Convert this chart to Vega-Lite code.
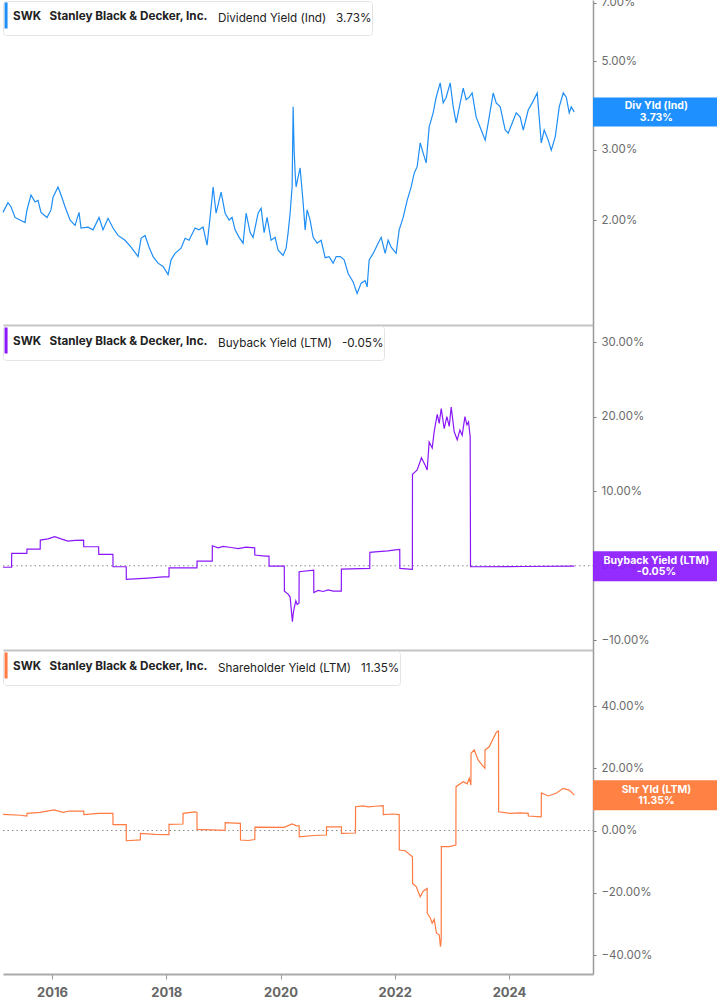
{
  "$schema": "https://vega.github.io/schema/vega-lite/v6.json",
  "padding": {"top": -4, "left": 0, "right": 0, "bottom": 0},
  "background": "white",
  "spacing": 0,
  "config": {
    "font": "Inter",
    "view": {"stroke": null},
    "axisY": {"grid": false, "title": null, "domainColor": "#9a9a9a", "domainWidth": 1.5, "tickColor": "#777777", "tickSize": 3, "tickWidth": 1, "labelColor": "#6b6b6b", "labelFontSize": 11.5, "labelFont": "Inter", "labelPadding": 5},
    "axisX": {"grid": false, "title": null, "domainColor": "#c4c4c4", "domainWidth": 2},
    "legend": {"orient": "none", "legendX": 0, "legendY": 1, "padding": 0, "strokeColor": "#e4e4e4", "fillColor": "white", "cornerRadius": 3, "titleOrient": "right", "titleAnchor": "middle", "titleBaseline": "middle", "titleFontWeight": "normal", "titleFont": "Inter", "titleFontSize": 11.7, "titleColor": "#222222", "titlePadding": 10, "titleLimit": 500, "labelFont": "Inter", "labelFontWeight": "bold", "labelFontSize": 11.7, "labelColor": "#222222", "labelOffset": -19, "labelLimit": 500, "symbolType": "M-0.88,-1L-0.88,1", "symbolSize": 676, "symbolStrokeWidth": 3, "symbolOpacity": 1}
  },
  "datasets": {
    "div": [{"t":2015.142,"v":2.09},{"t":2015.229,"v":2.21},{"t":2015.282,"v":2.16},{"t":2015.352,"v":2.03},{"t":2015.44,"v":2.0},{"t":2015.527,"v":1.97},{"t":2015.562,"v":2.12},{"t":2015.632,"v":2.31},{"t":2015.702,"v":2.22},{"t":2015.755,"v":2.24},{"t":2015.807,"v":2.09},{"t":2015.912,"v":2.03},{"t":2015.982,"v":2.12},{"t":2016.018,"v":2.28},{"t":2016.105,"v":2.42},{"t":2016.158,"v":2.31},{"t":2016.228,"v":2.16},{"t":2016.315,"v":2.0},{"t":2016.403,"v":1.94},{"t":2016.473,"v":2.09},{"t":2016.508,"v":1.91},{"t":2016.63,"v":1.92},{"t":2016.718,"v":1.89},{"t":2016.823,"v":2.03},{"t":2016.893,"v":1.89},{"t":2016.981,"v":2.02},{"t":2017.068,"v":1.91},{"t":2017.156,"v":1.83},{"t":2017.278,"v":1.78},{"t":2017.384,"v":1.71},{"t":2017.506,"v":1.62},{"t":2017.559,"v":1.8},{"t":2017.629,"v":1.83},{"t":2017.699,"v":1.71},{"t":2017.769,"v":1.62},{"t":2017.856,"v":1.56},{"t":2017.944,"v":1.53},{"t":2018.032,"v":1.46},{"t":2018.084,"v":1.59},{"t":2018.154,"v":1.65},{"t":2018.259,"v":1.7},{"t":2018.329,"v":1.8},{"t":2018.399,"v":1.78},{"t":2018.504,"v":1.91},{"t":2018.574,"v":1.89},{"t":2018.644,"v":1.92},{"t":2018.714,"v":1.73},{"t":2018.767,"v":2.03},{"t":2018.82,"v":2.42},{"t":2018.872,"v":2.08},{"t":2018.96,"v":2.35},{"t":2019.03,"v":2.08},{"t":2019.1,"v":2.0},{"t":2019.152,"v":2.03},{"t":2019.205,"v":1.89},{"t":2019.275,"v":1.81},{"t":2019.345,"v":1.75},{"t":2019.398,"v":2.08},{"t":2019.468,"v":1.86},{"t":2019.52,"v":1.81},{"t":2019.608,"v":2.08},{"t":2019.66,"v":2.14},{"t":2019.713,"v":1.86},{"t":2019.765,"v":2.03},{"t":2019.835,"v":1.78},{"t":2019.905,"v":1.81},{"t":2019.958,"v":1.68},{"t":2020.046,"v":1.63},{"t":2020.098,"v":1.7},{"t":2020.133,"v":1.86},{"t":2020.168,"v":2.08},{"t":2020.203,"v":2.42},{"t":2020.221,"v":3.84},{"t":2020.238,"v":2.99},{"t":2020.256,"v":2.62},{"t":2020.273,"v":2.42},{"t":2020.308,"v":2.56},{"t":2020.343,"v":2.7},{"t":2020.396,"v":2.21},{"t":2020.431,"v":1.89},{"t":2020.466,"v":2.12},{"t":2020.518,"v":2.0},{"t":2020.571,"v":1.81},{"t":2020.641,"v":1.75},{"t":2020.711,"v":1.78},{"t":2020.781,"v":1.61},{"t":2020.851,"v":1.62},{"t":2020.921,"v":1.56},{"t":2020.974,"v":1.62},{"t":2021.044,"v":1.62},{"t":2021.114,"v":1.59},{"t":2021.184,"v":1.47},{"t":2021.271,"v":1.4},{"t":2021.341,"v":1.31},{"t":2021.411,"v":1.39},{"t":2021.481,"v":1.41},{"t":2021.516,"v":1.36},{"t":2021.552,"v":1.59},{"t":2021.622,"v":1.65},{"t":2021.709,"v":1.75},{"t":2021.762,"v":1.81},{"t":2021.832,"v":1.65},{"t":2021.884,"v":1.78},{"t":2021.937,"v":1.71},{"t":2022.024,"v":1.65},{"t":2022.077,"v":1.89},{"t":2022.147,"v":2.03},{"t":2022.217,"v":2.24},{"t":2022.287,"v":2.42},{"t":2022.34,"v":2.62},{"t":2022.392,"v":2.72},{"t":2022.445,"v":3.12},{"t":2022.497,"v":2.94},{"t":2022.55,"v":2.78},{"t":2022.602,"v":3.42},{"t":2022.672,"v":3.71},{"t":2022.725,"v":4.06},{"t":2022.795,"v":4.41},{"t":2022.848,"v":3.93},{"t":2022.9,"v":4.06},{"t":2022.97,"v":4.41},{"t":2023.023,"v":3.84},{"t":2023.075,"v":3.5},{"t":2023.145,"v":3.93},{"t":2023.198,"v":4.28},{"t":2023.25,"v":4.0},{"t":2023.303,"v":4.06},{"t":2023.355,"v":4.16},{"t":2023.425,"v":3.62},{"t":2023.513,"v":3.36},{"t":2023.583,"v":3.17},{"t":2023.636,"v":3.5},{"t":2023.723,"v":4.16},{"t":2023.776,"v":3.93},{"t":2023.846,"v":3.84},{"t":2023.933,"v":3.36},{"t":2023.986,"v":3.3},{"t":2024.056,"v":3.5},{"t":2024.126,"v":3.71},{"t":2024.196,"v":3.62},{"t":2024.249,"v":3.36},{"t":2024.336,"v":3.77},{"t":2024.406,"v":3.93},{"t":2024.494,"v":4.16},{"t":2024.564,"v":3.12},{"t":2024.616,"v":3.36},{"t":2024.686,"v":3.17},{"t":2024.739,"v":2.99},{"t":2024.809,"v":3.23},{"t":2024.879,"v":3.84},{"t":2024.949,"v":4.16},{"t":2025.002,"v":4.06},{"t":2025.054,"v":3.71},{"t":2025.089,"v":3.84},{"t":2025.142,"v":3.73}],
    "buyback": [{"t":2015.142,"v":-0.2},{"t":2015.292,"v":-0.2},{"t":2015.294,"v":1.66},{"t":2015.56,"v":1.66},{"t":2015.562,"v":2.24},{"t":2015.793,"v":2.24},{"t":2015.795,"v":3.45},{"t":2015.93,"v":3.6},{"t":2016.047,"v":3.9},{"t":2016.158,"v":3.6},{"t":2016.28,"v":3.3},{"t":2016.403,"v":3.4},{"t":2016.553,"v":3.45},{"t":2016.555,"v":2.55},{"t":2016.816,"v":2.55},{"t":2016.818,"v":1.53},{"t":2017.066,"v":1.53},{"t":2017.068,"v":-0.13},{"t":2017.299,"v":-0.13},{"t":2017.301,"v":-1.83},{"t":2017.681,"v":-1.65},{"t":2017.944,"v":-1.5},{"t":2018.047,"v":-1.48},{"t":2018.049,"v":-0.27},{"t":2018.537,"v":-0.27},{"t":2018.539,"v":0.63},{"t":2018.805,"v":0.63},{"t":2018.807,"v":2.68},{"t":2018.907,"v":2.4},{"t":2018.995,"v":2.6},{"t":2019.135,"v":2.45},{"t":2019.257,"v":2.3},{"t":2019.398,"v":2.5},{"t":2019.548,"v":2.4},{"t":2019.55,"v":1.44},{"t":2019.73,"v":1.3},{"t":2019.798,"v":1.3},{"t":2019.8,"v":-0.04},{"t":2020.066,"v":-0.04},{"t":2020.068,"v":-3.4},{"t":2020.133,"v":-3.8},{"t":2020.168,"v":-4.2},{"t":2020.208,"v":-7.5},{"t":2020.221,"v":-6.5},{"t":2020.238,"v":-5.7},{"t":2020.268,"v":-4.7},{"t":2020.291,"v":-5.2},{"t":2020.324,"v":-5.0},{"t":2020.326,"v":-0.8},{"t":2020.581,"v":-0.6},{"t":2020.583,"v":-3.6},{"t":2020.659,"v":-3.3},{"t":2020.746,"v":-3.45},{"t":2020.834,"v":-3.25},{"t":2020.921,"v":-3.4},{"t":2021.064,"v":-3.4},{"t":2021.066,"v":-0.44},{"t":2021.562,"v":-0.35},{"t":2021.564,"v":1.8},{"t":2021.709,"v":1.9},{"t":2021.884,"v":2.0},{"t":2021.972,"v":2.1},{"t":2022.087,"v":2.2},{"t":2022.089,"v":-0.35},{"t":2022.308,"v":-0.48},{"t":2022.31,"v":12.27},{"t":2022.357,"v":12.6},{"t":2022.392,"v":12.85},{"t":2022.467,"v":14.5},{"t":2022.532,"v":13.5},{"t":2022.567,"v":12.85},{"t":2022.602,"v":16.6},{"t":2022.655,"v":15.8},{"t":2022.69,"v":18.0},{"t":2022.743,"v":20.3},{"t":2022.778,"v":19.1},{"t":2022.813,"v":21.1},{"t":2022.865,"v":18.4},{"t":2022.912,"v":20.0},{"t":2022.953,"v":18.7},{"t":2022.988,"v":21.3},{"t":2023.04,"v":18.0},{"t":2023.093,"v":16.9},{"t":2023.14,"v":18.2},{"t":2023.18,"v":17.5},{"t":2023.228,"v":20.0},{"t":2023.263,"v":18.9},{"t":2023.291,"v":19.3},{"t":2023.32,"v":17.3},{"t":2023.326,"v":-0.13},{"t":2024.249,"v":-0.1},{"t":2025.142,"v":-0.05}],
    "shy": [{"t":2015.142,"v":5.2},{"t":2015.45,"v":4.9},{"t":2015.56,"v":4.66},{"t":2015.564,"v":5.5},{"t":2015.79,"v":5.85},{"t":2016.035,"v":6.6},{"t":2016.193,"v":5.85},{"t":2016.298,"v":6.26},{"t":2016.555,"v":6.26},{"t":2016.557,"v":5.08},{"t":2016.818,"v":5.5},{"t":2017.066,"v":5.5},{"t":2017.068,"v":1.87},{"t":2017.299,"v":1.87},{"t":2017.301,"v":-3.28},{"t":2017.546,"v":-3.0},{"t":2017.548,"v":-0.9},{"t":2017.804,"v":-1.22},{"t":2018.047,"v":-1.3},{"t":2018.049,"v":2.0},{"t":2018.292,"v":2.1},{"t":2018.294,"v":5.5},{"t":2018.504,"v":6.0},{"t":2018.537,"v":5.8},{"t":2018.539,"v":0.38},{"t":2019.03,"v":0.06},{"t":2019.032,"v":2.5},{"t":2019.298,"v":2.3},{"t":2019.3,"v":-3.05},{"t":2019.433,"v":-3.2},{"t":2019.55,"v":-2.9},{"t":2019.552,"v":1.1},{"t":2020.063,"v":1.0},{"t":2020.203,"v":2.1},{"t":2020.273,"v":1.6},{"t":2020.326,"v":1.5},{"t":2020.328,"v":-2.0},{"t":2020.583,"v":-1.6},{"t":2020.804,"v":-1.45},{"t":2020.806,"v":1.2},{"t":2021.066,"v":1.2},{"t":2021.068,"v":-0.9},{"t":2021.312,"v":-0.8},{"t":2021.314,"v":7.65},{"t":2021.446,"v":7.9},{"t":2021.534,"v":7.6},{"t":2021.657,"v":7.8},{"t":2021.797,"v":8.0},{"t":2021.799,"v":5.1},{"t":2021.972,"v":5.3},{"t":2022.077,"v":5.1},{"t":2022.079,"v":-6.27},{"t":2022.182,"v":-6.5},{"t":2022.31,"v":-8.4},{"t":2022.312,"v":-17.0},{"t":2022.375,"v":-18.0},{"t":2022.445,"v":-21.3},{"t":2022.497,"v":-19.5},{"t":2022.567,"v":-18.6},{"t":2022.569,"v":-26.6},{"t":2022.62,"v":-28.0},{"t":2022.655,"v":-29.8},{"t":2022.69,"v":-28.5},{"t":2022.73,"v":-33.0},{"t":2022.778,"v":-33.5},{"t":2022.8,"v":-37.3},{"t":2022.813,"v":-35.0},{"t":2022.815,"v":-5.2},{"t":2022.953,"v":-5.2},{"t":2023.07,"v":-4.66},{"t":2023.072,"v":14.1},{"t":2023.198,"v":15.7},{"t":2023.268,"v":15.0},{"t":2023.303,"v":16.8},{"t":2023.333,"v":14.6},{"t":2023.335,"v":24.8},{"t":2023.391,"v":25.9},{"t":2023.461,"v":22.6},{"t":2023.531,"v":21.0},{"t":2023.578,"v":20.0},{"t":2023.58,"v":25.9},{"t":2023.653,"v":26.9},{"t":2023.723,"v":29.6},{"t":2023.781,"v":31.7},{"t":2023.816,"v":32.0},{"t":2023.818,"v":6.0},{"t":2024.021,"v":5.5},{"t":2024.196,"v":5.7},{"t":2024.336,"v":5.5},{"t":2024.338,"v":4.66},{"t":2024.564,"v":4.4},{"t":2024.566,"v":12.1},{"t":2024.686,"v":11.1},{"t":2024.826,"v":11.95},{"t":2024.949,"v":13.55},{"t":2025.054,"v":13.0},{"t":2025.142,"v":11.35}],
    "tag1": [{"tag": "Div Yld (Ind)\n3.73%", "value": 3.73}],
    "tag2": [{"tag": "Buyback Yield (LTM)\n-0.05%", "value": -0.05}],
    "tag3": [{"tag": "Shr Yld (LTM)\n11.35%", "value": 11.35}]
  },
  "resolve": {"scale": {"x": "independent", "y": "independent", "color": "independent"}, "axis": {"x": "independent", "y": "independent"}, "legend": {"color": "independent"}},
  "vconcat": [
    {
      "width": 590, "height": 325,
      "layer": [
        {
          "data": {"name": "div"},
          "mark": {"type": "line", "strokeWidth": 1.2},
          "encoding": {
            "x": {"field": "t", "type": "quantitative", "title": null, "scale": {"domain": [2015.142, 2025.47], "nice": false, "zero": false}, "axis": {"labels": false, "ticks": false}},
            "y": {"field": "v", "type": "quantitative", "title": null, "scale": {"type": "log", "domain": [1.092, 7.11], "nice": false}, "axis": {"orient": "right", "values": [2, 3, 5, 7], "labelExpr": "format(datum.value, '.2f') + '%'"}},
            "color": {"datum": "SWK\u00a0\u00a0\u00a0Stanley Black & Decker, Inc.", "scale": {"range": ["#1f8ef5"]}, "legend": {"title": "Dividend Yield (Ind)\u00a0\u00a0\u00a03.73%\u00a0\u00a0\u00a0\u00a0\u00a0\u00a0\u00a0"}}
          }
        },
        {
          "data": {"name": "tag1"},
          "mark": {"type": "rule", "strokeWidth": 29, "color": "#1e90ff", "strokeCap": "butt"},
          "encoding": {
            "x": {"datum": 2025.47, "type": "quantitative"},
            "x2": {"datum": 2027.7},
            "y": {"field": "value", "type": "quantitative", "title": null}
          }
        },
        {
          "data": {"name": "tag1"},
          "mark": {"type": "text", "color": "white", "fontWeight": "bold", "fontSize": 10.5, "lineHeight": 11.5, "lineBreak": "\n", "align": "center", "baseline": "middle", "dy": -5.5},
          "encoding": {
            "x": {"datum": 2026.58, "type": "quantitative"},
            "y": {"field": "value", "type": "quantitative", "title": null},
            "text": {"field": "tag"}
          }
        }
      ]
    },
    {
      "width": 590, "height": 325,
      "layer": [
        {
          "data": {"name": "tag2"},
          "mark": {"type": "rule", "color": "#8a8a8a", "strokeDash": [1.5, 3], "strokeWidth": 1},
          "encoding": {
            "x": {"datum": 2015.142, "type": "quantitative"},
            "x2": {"datum": 2025.47},
            "y": {"datum": 0, "type": "quantitative"}
          }
        },
        {
          "data": {"name": "buyback"},
          "mark": {"type": "line", "strokeWidth": 1.2},
          "encoding": {
            "x": {"field": "t", "type": "quantitative", "title": null, "scale": {"domain": [2015.142, 2025.47], "nice": false, "zero": false}, "axis": {"labels": false, "ticks": false}},
            "y": {"field": "v", "type": "quantitative", "title": null, "scale": {"domain": [-11.3, 32.3], "nice": false, "zero": false}, "axis": {"orient": "right", "values": [-10, 0, 10, 20, 30], "labelExpr": "format(datum.value, '.2f') + '%'"}},
            "color": {"datum": "SWK\u00a0\u00a0\u00a0Stanley Black & Decker, Inc.", "scale": {"range": ["#8a17fa"]}, "legend": {"title": "Buyback Yield (LTM)\u00a0\u00a0\u00a0-0.05%\u00a0\u00a0\u00a0\u00a0\u00a0\u00a0\u00a0"}}
          }
        },
        {
          "data": {"name": "tag2"},
          "mark": {"type": "rule", "strokeWidth": 30, "color": "#8c1cff", "opacity": 0.93, "strokeCap": "butt"},
          "encoding": {
            "x": {"datum": 2025.47, "type": "quantitative"},
            "x2": {"datum": 2027.7},
            "y": {"field": "value", "type": "quantitative", "title": null}
          }
        },
        {
          "data": {"name": "tag2"},
          "mark": {"type": "text", "color": "white", "fontWeight": "bold", "fontSize": 10.5, "lineHeight": 11.5, "lineBreak": "\n", "align": "center", "baseline": "middle", "dy": -5.5},
          "encoding": {
            "x": {"datum": 2026.58, "type": "quantitative"},
            "y": {"field": "value", "type": "quantitative", "title": null},
            "text": {"field": "tag"}
          }
        }
      ]
    },
    {
      "width": 590, "height": 324,
      "layer": [
        {
          "data": {"name": "tag3"},
          "mark": {"type": "rule", "color": "#8a8a8a", "strokeDash": [1.5, 3], "strokeWidth": 1},
          "encoding": {
            "x": {"datum": 2015.142, "type": "quantitative"},
            "x2": {"datum": 2025.47},
            "y": {"datum": 0, "type": "quantitative"}
          }
        },
        {
          "data": {"name": "shy"},
          "mark": {"type": "line", "strokeWidth": 1.2},
          "encoding": {
            "x": {"field": "t", "type": "quantitative", "title": null, "scale": {"domain": [2015.142, 2025.47], "nice": false, "zero": false}, "axis": {"values": [2016, 2018, 2020, 2022, 2024], "format": "d", "labelFontWeight": "bold", "labelFontSize": 13, "labelColor": "#666666", "tickColor": "#999999", "tickSize": 5, "labelPadding": 7, "domainColor": "#aaaaaa"}},
            "y": {"field": "v", "type": "quantitative", "title": null, "scale": {"domain": [-46.1, 58.0], "nice": false, "zero": false}, "axis": {"orient": "right", "values": [-40, -20, 0, 20, 40], "labelExpr": "format(datum.value, '.2f') + '%'"}},
            "color": {"datum": "SWK\u00a0\u00a0\u00a0Stanley Black & Decker, Inc.", "scale": {"range": ["#ff7b42"]}, "legend": {"title": "Shareholder Yield (LTM)\u00a0\u00a0\u00a011.35%\u00a0\u00a0\u00a0\u00a0\u00a0\u00a0\u00a0\u00a0"}}
          }
        },
        {
          "data": {"name": "tag3"},
          "mark": {"type": "rule", "strokeWidth": 30, "color": "#ff8144", "strokeCap": "butt"},
          "encoding": {
            "x": {"datum": 2025.47, "type": "quantitative"},
            "x2": {"datum": 2027.7},
            "y": {"field": "value", "type": "quantitative", "title": null}
          }
        },
        {
          "data": {"name": "tag3"},
          "mark": {"type": "text", "color": "white", "fontWeight": "bold", "fontSize": 10.5, "lineHeight": 11.5, "lineBreak": "\n", "align": "center", "baseline": "middle", "dy": -5.5},
          "encoding": {
            "x": {"datum": 2026.58, "type": "quantitative"},
            "y": {"field": "value", "type": "quantitative", "title": null},
            "text": {"field": "tag"}
          }
        }
      ]
    }
  ]
}
